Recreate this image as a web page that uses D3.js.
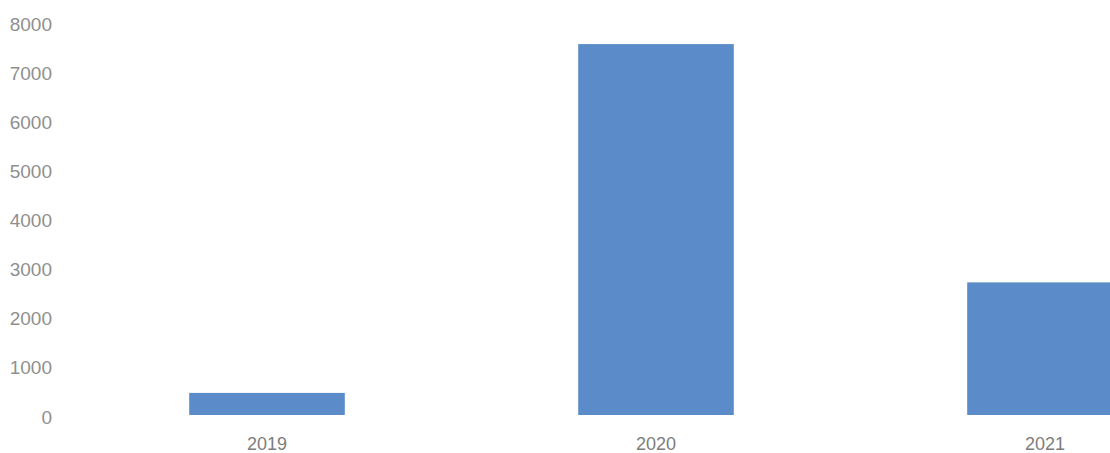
<!DOCTYPE html>
<html>
<head>
<meta charset="utf-8">
<script src="https://cdn.jsdelivr.net/npm/d3@7"></script>
<style>
  html, body { margin: 0; padding: 0; background: #fff; overflow: hidden; }
  svg { display: block; }
</style>
</head>
<body>
<svg id="chart" width="1110" height="453"></svg>
<script>
const categories = ["2019", "2020", "2021"];
const values = [450, 7550, 2700];
const yTicks = [0, 1000, 2000, 3000, 4000, 5000, 6000, 7000, 8000];

const svg = d3.select("#chart");

const x = d3.scaleBand()
  .domain(categories)
  .range([72.5, 1239.5])
  .paddingInner(0.6)
  .paddingOuter(0.3);

const y = d3.scaleLinear()
  .domain([0, 8000])
  .range([415, 22]);

const font = "'Liberation Sans', Arial, sans-serif";

// bars
svg.append("g")
  .selectAll("rect")
  .data(categories)
  .join("rect")
  .attr("x", d => x(d))
  .attr("width", x.bandwidth())
  .attr("y", (d, i) => y(values[i]))
  .attr("height", (d, i) => y(0) - y(values[i]))
  .attr("fill", "#5b8bc8");

// y axis (labels only)
const yAxis = d3.axisLeft(y).tickValues(yTicks).tickSize(0).tickPadding(0).tickFormat(d3.format("d"));
const gy = svg.append("g").attr("transform", "translate(52,2)").call(yAxis);
gy.select(".domain").remove();
gy.selectAll("text")
  .attr("fill", "#8f8f8f")
  .style("font-family", font)
  .style("font-size", "19px");

// x axis (labels only)
const xAxis = d3.axisBottom(x).tickSize(0).tickPadding(0);
const gx = svg.append("g").attr("transform", "translate(0,436)").call(xAxis);
gx.select(".domain").remove();
gx.selectAll("text")
  .attr("fill", "#7d7d7d")
  .attr("dy", "0.8em")
  .style("font-family", font)
  .style("font-size", "18px");
</script>
</body>
</html>
